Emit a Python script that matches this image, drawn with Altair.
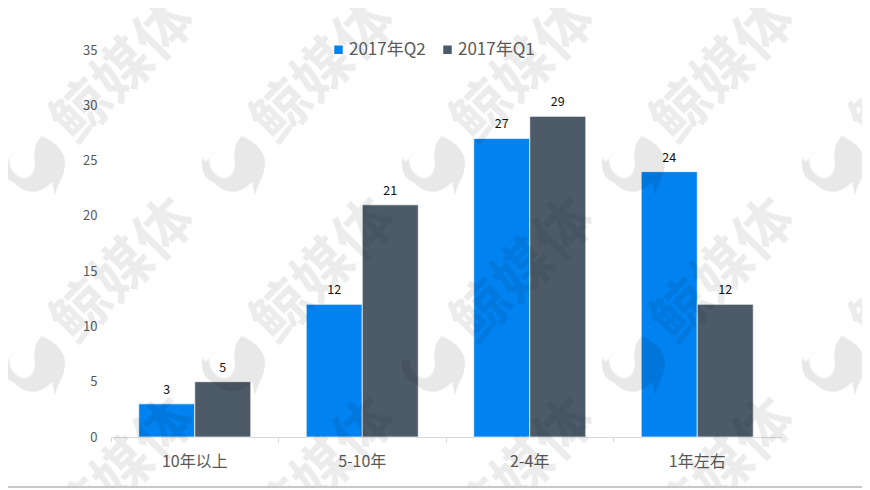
import altair as alt
import pandas as pd

categories = ["10年以上", "5-10年", "2-4年", "1年左右"]
series_names = ["2017年Q2", "2017年Q1"]
q2_values = [3, 12, 27, 24]
q1_values = [5, 21, 29, 12]
colors = ["#0082F0", "#4D5B69"]
font = "Noto Sans CJK SC"
watermark_text = "鲸媒体"
logo_path = ("M0.26,-1 C0.65,-0.85 0.98,-0.55 1,-0.21 C1,0.05 0.95,0.25 0.84,0.42 L0.68,0.84 L0.6,0.42 "
             "C0.4,0.65 0.15,0.76 -0.05,0.74 C-0.3,0.72 -0.45,0.6 -0.58,0.47 C-0.75,0.38 -0.85,0.3 -0.89,0.21 "
             "C-0.98,0.05 -0.98,-0.15 -0.95,-0.32 L-0.85,-0.2 L-0.53,-0.53 "
             "C-0.7,-0.4 -0.76,-0.3 -0.74,-0.21 C-0.72,-0.05 -0.68,0.08 -0.58,0.16 "
             "C-0.45,0.3 -0.35,0.33 -0.26,0.32 C-0.15,0.31 -0.1,0.27 -0.05,0.21 "
             "C0.05,0.05 0.07,-0.05 0.05,-0.21 C0.03,-0.45 0.05,-0.6 0.1,-0.74 Z")

rows = []
for c, a, b in zip(categories, q2_values, q1_values):
    rows.append({"cat": c, "series": series_names[0], "value": a})
    rows.append({"cat": c, "series": series_names[1], "value": b})
df = pd.DataFrame(rows)

PLOT_L, PLOT_T = 111, 50
text_tiles = pd.DataFrame([
    {"px": 125 + 200 * i - PLOT_L, "py": 72 + 200 * j - PLOT_T, "t": watermark_text}
    for i in range(5) for j in range(3)
])
logo_tiles = pd.DataFrame([
    {"px": 33 + 200 * i - PLOT_L, "py": 168 + 200 * j - PLOT_T}
    for i in range(5) for j in range(2)
])

x = alt.X("cat:N", sort=categories, title=None,
          scale=alt.Scale(paddingInner=0, paddingOuter=0),
          axis=alt.Axis(labelAngle=0, labelFontSize=16, labelColor="#595959", labelFont=font,
                        labelPadding=11, domainColor="#D9D9D9", tickColor="#D9D9D9", tickSize=5,
                        bandPosition=0, ticks=True, grid=False))
y = alt.Y("value:Q", title=None,
          scale=alt.Scale(domain=[0, 35], nice=False),
          axis=alt.Axis(values=[0, 5, 10, 15, 20, 25, 30, 35], labelFontSize=13, labelColor="#595959",
                        labelFont=font, domain=False, ticks=False, grid=False, labelPadding=14))
color = alt.Color("series:N", sort=series_names,
                  scale=alt.Scale(domain=series_names, range=colors),
                  legend=alt.Legend(orient="none", legendX=219, legendY=-9, direction="horizontal",
                                    title=None, symbolType="square", symbolSize=100, labelFontSize=17,
                                    labelColor="#595959", labelFont=font, columnPadding=13,
                                    labelOffset=2, symbolOpacity=1))
off = alt.XOffset("series:N", sort=series_names, scale=alt.Scale(paddingInner=0, paddingOuter=0.495))

bars = alt.Chart(df).mark_bar(stroke="white", strokeWidth=0.7).encode(x=x, y=y, color=color, xOffset=off)
labels = alt.Chart(df).mark_text(dy=-14, fontSize=12.5, color="#111111", font=font).encode(
    x=x, y=y, xOffset=off, text="value:Q")
main = bars + labels

px = alt.X("px:Q", scale=None, axis=None)
py = alt.Y("py:Q", scale=None, axis=None)
wm_text = alt.Chart(text_tiles).mark_text(
    angle=315, fontSize=58, font=font, fontWeight="bold", color="#000000", opacity=0.07
).encode(x=px, y=py, text="t:N")
wm_logo = alt.Chart(logo_tiles).mark_point(
    shape=logo_path, size=4096, filled=True, color="#000000", opacity=0.09, strokeWidth=0
).encode(x=px, y=py)
border = alt.Chart(pd.DataFrame({"a": [0]})).mark_rule(color="#C8C8C8", strokeWidth=2).encode(
    x=alt.value(-103), x2=alt.value(751), y=alt.value(437))

chart = alt.layer(main, wm_text, wm_logo, border).resolve_scale(
    x="independent", y="independent"
).properties(
    width=670, height=387,
    autosize=alt.AutoSizeParams(type="none"),
    padding={"left": 103, "top": 42, "right": 81, "bottom": 51},
    background="white",
).configure_view(stroke=None)

chart.save("out.html", embed_options={"renderer": "svg", "actions": False})
